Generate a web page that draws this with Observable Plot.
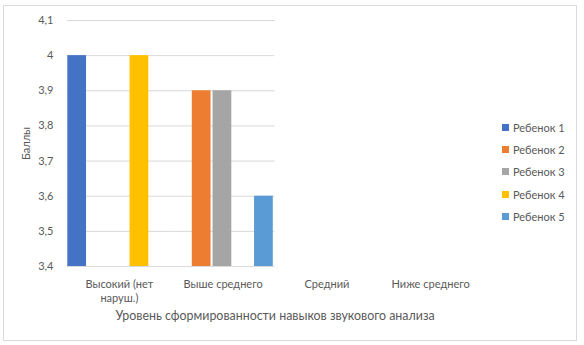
<!DOCTYPE html>
<html><head><meta charset="utf-8">
<script src="https://cdn.jsdelivr.net/npm/d3@7"></script>
<script src="https://cdn.jsdelivr.net/npm/@observablehq/plot@0.6"></script>
<style>
body{margin:0;background:#fff;font-family:Lato,"Open Sans",sans-serif;}
#wrap{position:relative;width:584px;height:345px;overflow:hidden;}
#frame{position:absolute;left:3px;top:5px;width:574px;height:336px;border:1px solid #D9D9D9;box-sizing:border-box;}
#chart{position:absolute;left:0;top:0;}
#legend{position:absolute;left:502px;top:116px;font-size:11px;color:#595959;}
.item{display:flex;align-items:center;height:22.4px;white-space:nowrap;}
.sw{width:7px;height:7px;margin-right:4px;}
</style></head><body>
<div id="wrap"><div id="frame"></div><div id="chart"></div><div id="legend"></div></div>
<script>
const categories = ["Высокий (нет наруш.)", "Выше среднего", "Средний", "Ниже среднего"];
const categoryLabels = ["Высокий (нет\nнаруш.)", "Выше среднего", "Средний", "Ниже среднего"];
const series = ["Ребенок 1", "Ребенок 2", "Ребенок 3", "Ребенок 4", "Ребенок 5"];
const colors = ["#4472C4", "#ED7D31", "#A5A5A5", "#FFC000", "#5B9BD5"];
const child1 = [4.0, null, null, null];
const child2 = [null, 3.9, null, null];
const child3 = [null, 3.9, null, null];
const child4 = [4.0, null, null, null];
const child5 = [null, 3.6, null, null];
const yTicks = [3.4, 3.5, 3.6, 3.7, 3.8, 3.9, 4.0, 4.1];
const xTitle = "Уровень сформированности навыков звукового анализа";
const yTitle = "Баллы";

const seriesValues = [child1, child2, child3, child4, child5];
const data = [];
series.forEach((s, i) => categories.forEach((c, j) => {
  const v = seriesValues[i][j];
  if (v != null) data.push({cat: c, series: s, value: v});
}));

const plot = Plot.plot({
  width: 584, height: 345,
  marginLeft: 67, marginRight: 102, marginTop: 20, marginBottom: 79,
  style: {fontFamily: "Lato, sans-serif", fontSize: "11px", color: "#595959", background: "transparent"},
  fx: {domain: categories, padding: 0, round: false},
  x: {domain: series, padding: 0, round: false, axis: null},
  y: {domain: [3.4, 4.1]},
  color: {domain: series, range: colors},
  marks: [
    Plot.ruleY(yTicks, {stroke: "#D9D9D9", strokeWidth: 1}),
    Plot.barY(data, {fx: "cat", x: "series", y1: 3.4, y2: "value", fill: "series", insetLeft: 0.3, insetRight: 1.7}),
    Plot.axisY({ticks: yTicks, tickSize: 0, tickPadding: 14,
      tickFormat: d => String(d).replace(".", ","),
      label: null}),
    Plot.axisY({ticks: [], tickSize: 0, label: yTitle, labelAnchor: "center", labelOffset: 45, labelArrow: "none", fontSize: "11px"}),
    Plot.axisFx({anchor: "bottom", tickSize: 0, tickPadding: 11, lineHeight: 1.3,
      tickFormat: d => categoryLabels[categories.indexOf(d)], label: null}),
    Plot.axisFx({anchor: "bottom", ticks: [], tickSize: 0, label: xTitle, labelAnchor: "center", labelOffset: 53, labelArrow: "none", fontSize: "12.4px", dx: -2})
  ]
});
document.getElementById("chart").appendChild(plot);

const leg = document.getElementById("legend");
series.forEach((s, i) => {
  const it = document.createElement("div");
  it.className = "item";
  const sw = document.createElement("span");
  sw.className = "sw";
  sw.style.background = colors[i];
  it.appendChild(sw);
  it.appendChild(document.createTextNode(s));
  leg.appendChild(it);
});
</script>
</body></html>
